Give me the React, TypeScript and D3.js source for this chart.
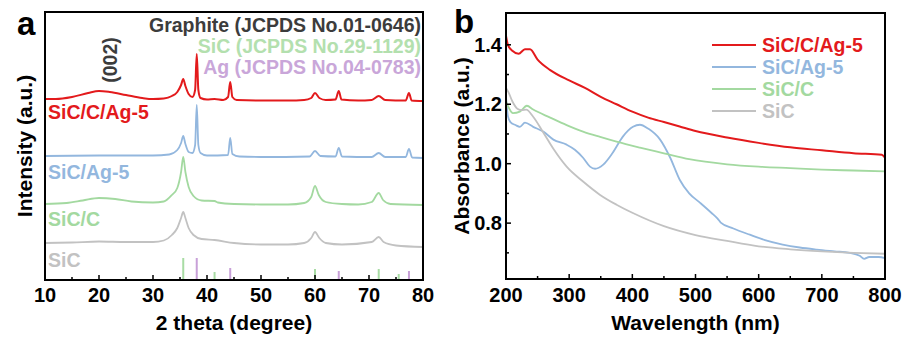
import React from "react";
import * as d3 from "d3";

// ---------- Panel a: XRD (2θ, intensity a.u.) ----------
const XRD_X_TICKS = [10, 20, 30, 40, 50, 60, 70, 80];
const XRD_X_MINOR = [15, 25, 35, 45, 55, 65, 75];

const XRD_RED: [number, number][] = [
  [10, 181], [12, 181], [15, 183], [18, 187], [20, 189], [22, 188], [25, 185], [28, 182],
  [30, 181], [32, 181.5], [33.5, 184], [34.5, 188], [35.2, 195], [35.6, 201], [36.0, 194],
  [36.6, 186], [37.3, 183], [37.8, 190], [38.1, 226], [38.4, 190], [38.8, 182], [40, 180.5],
  [41.4, 181], [43, 180], [43.9, 183], [44.3, 198], [44.7, 183], [45.5, 180], [50, 179.5],
  [55, 179.5], [58, 180], [59.3, 182], [60, 187], [60.8, 182], [62, 180], [63.8, 180.5],
  [64.4, 189], [64.9, 180.5], [68, 179.5], [70.5, 180], [71.8, 184], [73, 180], [76.8, 179.5],
  [77.4, 187], [77.9, 179.5], [80, 179],
];
const XRD_BLUE: [number, number][] = [
  [10, 124], [20, 124.5], [30, 124.5], [33, 125.5], [34.5, 130], [35.2, 137], [35.6, 144],
  [36.0, 136], [36.6, 128], [37.3, 127], [37.8, 135], [38.1, 175], [38.4, 135], [38.8, 127],
  [40, 124.5], [43.9, 125], [44.3, 142], [44.7, 126], [46, 123.5], [50, 123], [59, 123.5],
  [60, 129], [61, 124], [63.8, 123.5], [64.4, 132], [65, 123.5], [70.5, 123], [71.8, 127],
  [73, 123], [76.8, 123], [77.4, 131], [78, 122.5], [80, 122],
];
const XRD_GREEN: [number, number][] = [
  [10, 76], [14, 77], [17, 79.5], [20, 82], [23, 81], [26, 78.5], [30, 77.5], [32, 78.5],
  [33.5, 85], [34.5, 92], [35.2, 108], [35.6, 123], [36.0, 108], [36.6, 93], [37.5, 84],
  [39, 79.5], [41.4, 79], [42, 77.5], [45, 76], [50, 75.5], [55, 75.5], [58, 77], [59.3, 83],
  [60, 94], [60.7, 85], [62, 78], [65, 76], [68, 75.5], [70.5, 78], [71.8, 87], [72.6, 80],
  [74, 76], [80, 75],
];
const XRD_GRAY: [number, number][] = [
  [10, 37], [15, 37.5], [20, 38.5], [25, 38], [30, 38], [32, 39.5], [33.5, 45], [34.5, 52],
  [35.2, 62], [35.6, 68], [36.0, 62], [36.6, 52], [37.5, 45], [39, 41], [41.4, 40], [45, 37],
  [50, 35.5], [55, 35.5], [58, 37], [59.3, 42], [60, 48], [60.8, 42], [62, 37], [65, 35.5],
  [70.5, 38], [71.8, 43], [72.7, 38], [75, 34.5], [80, 33],
];
const SIC_REF: [number, number][] = [[35.6, 22], [41.4, 8], [60.0, 11], [71.8, 11], [75.5, 6]];
const AG_REF: [number, number][] = [[38.1, 22], [44.3, 12], [64.4, 9], [77.4, 9]];

const XRD_LABELS = ["SiC/C/Ag-5", "SiC/Ag-5", "SiC/C", "SiC"];
const XRD_LABEL_LEVEL = [161, 101, 54, 13];
const REF_TEXTS = ["Graphite (JCPDS No.01-0646)", "SiC (JCPDS No.29-1129)", "Ag (JCPDS No.04-0783)"];

// ---------- Panel b: UV-vis absorbance ----------
const UV_X_TICKS = [200, 300, 400, 500, 600, 700, 800];
const UV_X_MINOR = [250, 350, 450, 550, 650, 750];
const UV_Y_TICKS = [0.8, 1.0, 1.2, 1.4];
const UV_Y_MINOR = [0.7, 0.9, 1.1, 1.3];

const UV_RED: [number, number][] = [
  [200, 1.43], [203, 1.40], [210, 1.38], [220, 1.37], [230, 1.385], [238, 1.385], [250, 1.35],
  [270, 1.315], [300, 1.28], [325, 1.255], [350, 1.225], [375, 1.2], [400, 1.175], [425, 1.155],
  [450, 1.14], [475, 1.125], [500, 1.11], [550, 1.088], [600, 1.07], [650, 1.055], [700, 1.045],
  [750, 1.035], [795, 1.03], [800, 1.02],
];
const UV_BLUE: [number, number][] = [
  [200, 1.225], [203, 1.16], [207, 1.14], [215, 1.13], [222, 1.124], [230, 1.138], [243, 1.124],
  [259, 1.108], [275, 1.081], [296, 1.064], [309, 1.047], [322, 1.02], [333, 0.99], [341, 0.983],
  [354, 0.997], [369, 1.037], [385, 1.091], [401, 1.124], [412, 1.131], [425, 1.118], [444, 1.081],
  [460, 1.02], [475, 0.946], [490, 0.9], [507, 0.869], [525, 0.835], [535, 0.815], [540, 0.802],
  [560, 0.782], [586, 0.761], [610, 0.743], [638, 0.728], [665, 0.718], [692, 0.711], [720, 0.705],
  [744, 0.70], [760, 0.69], [767, 0.68], [775, 0.686], [790, 0.686], [800, 0.682],
];
const UV_GREEN: [number, number][] = [
  [200, 1.21], [204, 1.19], [211, 1.17], [222, 1.175], [233, 1.195], [243, 1.182], [270, 1.155],
  [296, 1.13], [322, 1.108], [349, 1.09], [375, 1.074], [412, 1.054], [450, 1.035], [490, 1.015],
  [550, 0.998], [600, 0.99], [650, 0.985], [700, 0.98], [750, 0.977], [800, 0.974],
];
const UV_GRAY: [number, number][] = [
  [200, 1.255], [204, 1.24], [210, 1.21], [218, 1.185], [225, 1.18], [232, 1.182], [243, 1.158],
  [259, 1.105], [275, 1.05], [296, 0.99], [322, 0.94], [349, 0.895], [375, 0.862], [400, 0.835],
  [450, 0.79], [500, 0.76], [550, 0.74], [600, 0.722], [650, 0.712], [700, 0.705], [750, 0.70],
  [800, 0.697],
];
const UV_LEGEND = ["SiC/C/Ag-5", "SiC/Ag-5", "SiC/C", "SiC"];

const COLORS = ["#e31a1c", "#93b7de", "#a3d9a0", "#c2c2c2"];
const REF_COLORS = ["#3c3c3c", "#b3e0ae", "#c9a6d9"];
const STICK_SIC = "#a8dca4";
const STICK_AG = "#c8a0d8";

const FONT = "'Liberation Sans', Arial, Helvetica, sans-serif";

export default function App() {
  // panel a geometry
  const aL = 45, aR = 423, aT = 12, aB = 280;
  const xA = d3.scaleLinear().domain([10, 80]).range([aL, aR]);
  const yA = d3.scaleLinear().domain([0, 268]).range([aB, aT]);
  const lineA = d3.line<[number, number]>().x((d) => xA(d[0])).y((d) => yA(d[1])).curve(d3.curveMonotoneX);

  // panel b geometry
  const bL = 506, bR = 885, bT = 13, bB = 279;
  const xB = d3.scaleLinear().domain([200, 800]).range([bL, bR]);
  const yB = d3.scaleLinear().domain([0.612, 1.507]).range([bB, bT]);
  const lineB = d3.line<[number, number]>().x((d) => xB(d[0])).y((d) => yB(d[1])).curve(d3.curveMonotoneX);

  const xrdSeries = [XRD_RED, XRD_BLUE, XRD_GREEN, XRD_GRAY];
  const uvSeries = [UV_RED, UV_BLUE, UV_GREEN, UV_GRAY];

  return (
    <svg width={906} height={340} style={{ position: "absolute", left: 0, top: 0, background: "#fff" }}
      fontFamily={FONT} fontWeight="bold">
      <rect width={906} height={340} fill="#fff" />
      {/* ---------- Panel a ---------- */}
      <text x={17} y={35} fontSize={33}>a</text>
      {xrdSeries.map((s, i) => (
        <path key={i} d={lineA(s) || ""} fill="none" stroke={COLORS[i]} strokeWidth={i === 0 ? 2 : 1.8} />
      ))}
      {SIC_REF.map((d, i) => (
        <line key={"s" + i} x1={xA(d[0])} x2={xA(d[0])} y1={yA(0)} y2={yA(d[1])} stroke={STICK_SIC} strokeWidth={2} />
      ))}
      {AG_REF.map((d, i) => (
        <line key={"g" + i} x1={xA(d[0])} x2={xA(d[0])} y1={yA(0)} y2={yA(d[1])} stroke={STICK_AG} strokeWidth={2} />
      ))}
      {XRD_LABELS.map((t, i) => (
        <text key={t} x={48} y={yA(XRD_LABEL_LEVEL[i])} fontSize={19.5} fill={COLORS[i]}>{t}</text>
      ))}
      {REF_TEXTS.map((t, i) => (
        <text key={t} x={421} y={32 + i * 21} fontSize={19.5} fill={REF_COLORS[i]} textAnchor="end">{t}</text>
      ))}
      <text transform={`translate(${xA(22)},60) rotate(-90)`} fontSize={19.5} fill="#3c3c3c" textAnchor="middle" dy="0.35em">(002)</text>
      {XRD_X_TICKS.map((t) => (
        <g key={t}>
          <line x1={xA(t)} x2={xA(t)} y1={aB} y2={aB - 5} stroke="#000" strokeWidth={1.5} />
          <text x={xA(t)} y={302} fontSize={20} textAnchor="middle">{t}</text>
        </g>
      ))}
      {XRD_X_MINOR.map((t) => (
        <line key={t} x1={xA(t)} x2={xA(t)} y1={aB} y2={aB - 3} stroke="#000" strokeWidth={1.5} />
      ))}
      <rect x={aL} y={aT} width={aR - aL} height={aB - aT} fill="none" stroke="#000" strokeWidth={2} />
      <text x={(aL + aR) / 2} y={330} fontSize={21} textAnchor="middle">2 theta (degree)</text>
      <text transform={`translate(25,${(aT + aB) / 2}) rotate(-90)`} fontSize={21} textAnchor="middle" dy="0.35em">Intensity (a.u.)</text>

      {/* ---------- Panel b ---------- */}
      <text x={454} y={33} fontSize={33}>b</text>
      {uvSeries.map((s, i) => (
        <path key={i} d={lineB(s) || ""} fill="none" stroke={COLORS[i]} strokeWidth={i === 0 ? 2 : 1.8} />
      ))}
      {UV_LEGEND.map((t, i) => (
        <g key={t}>
          <line x1={712} x2={756} y1={45 + i * 22} y2={45 + i * 22} stroke={COLORS[i]} strokeWidth={2} />
          <text x={762} y={45 + i * 22 + 7} fontSize={19.5} fill={COLORS[i]}>{t}</text>
        </g>
      ))}
      {UV_X_TICKS.map((t) => (
        <g key={t}>
          <line x1={xB(t)} x2={xB(t)} y1={bB} y2={bB - 5} stroke="#000" strokeWidth={1.5} />
          <text x={xB(t)} y={302} fontSize={20} textAnchor="middle">{t}</text>
        </g>
      ))}
      {UV_X_MINOR.map((t) => (
        <line key={t} x1={xB(t)} x2={xB(t)} y1={bB} y2={bB - 3} stroke="#000" strokeWidth={1.5} />
      ))}
      {UV_Y_TICKS.map((t) => (
        <g key={t}>
          <line x1={bL} x2={bL + 5} y1={yB(t)} y2={yB(t)} stroke="#000" strokeWidth={1.5} />
          <text x={502} y={yB(t)} dy="0.35em" fontSize={20} textAnchor="end">{t.toFixed(1)}</text>
        </g>
      ))}
      {UV_Y_MINOR.map((t) => (
        <line key={t} x1={bL} x2={bL + 3} y1={yB(t)} y2={yB(t)} stroke="#000" strokeWidth={1.5} />
      ))}
      <rect x={bL} y={bT} width={bR - bL} height={bB - bT} fill="none" stroke="#000" strokeWidth={2} />
      <text x={(bL + bR) / 2} y={330} fontSize={21} textAnchor="middle">Wavelength (nm)</text>
      <text transform={`translate(462,${(bT + bB) / 2}) rotate(-90)`} fontSize={21} textAnchor="middle" dy="0.35em">Absorbance (a.u.)</text>
    </svg>
  );
}
